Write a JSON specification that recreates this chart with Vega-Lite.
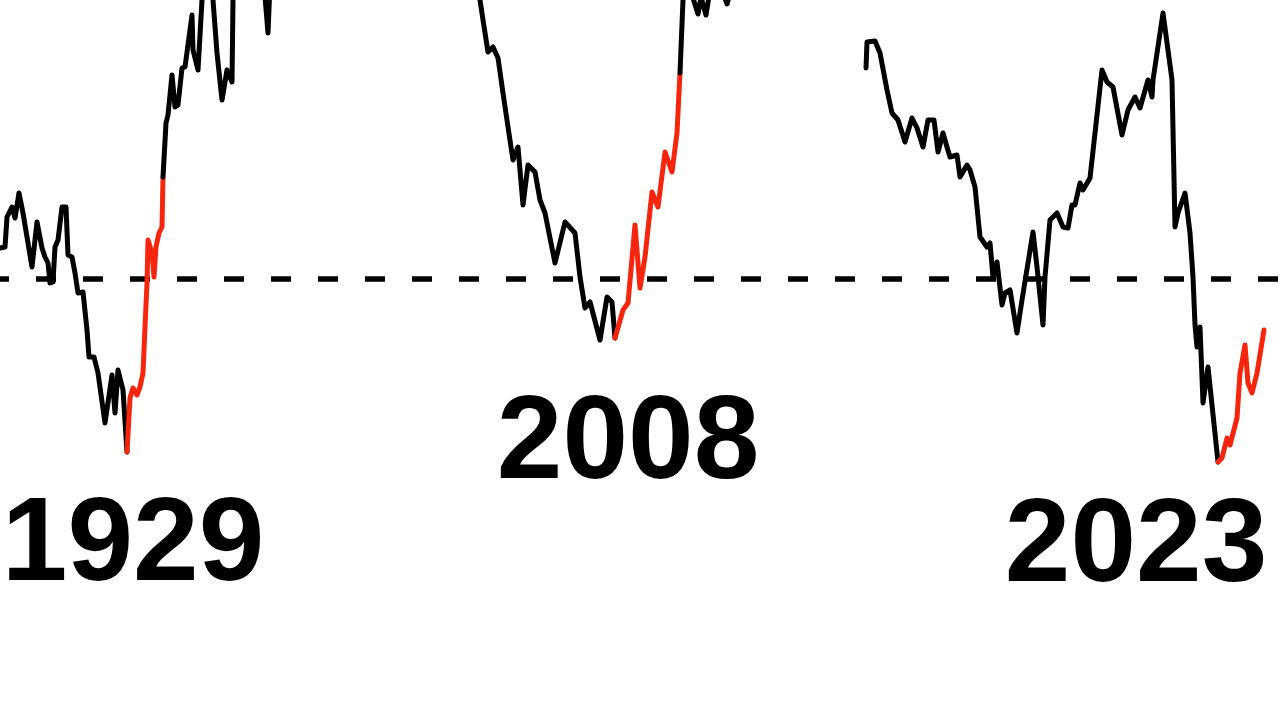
{
  "$schema": "https://vega.github.io/schema/vega-lite/v6.json",
  "autosize": {"type": "none"},
  "width": 1280,
  "height": 720,
  "padding": 0,
  "background": "white",
  "config": {"view": {"stroke": null}},
  "datasets": {
    "series": [
      {"seg": "1929a", "phase": "main", "t": 0, "v": 472},
      {"seg": "1929a", "phase": "main", "t": 5, "v": 473},
      {"seg": "1929a", "phase": "main", "t": 7, "v": 503},
      {"seg": "1929a", "phase": "main", "t": 12, "v": 513},
      {"seg": "1929a", "phase": "main", "t": 15, "v": 502},
      {"seg": "1929a", "phase": "main", "t": 19, "v": 527},
      {"seg": "1929a", "phase": "main", "t": 23, "v": 507},
      {"seg": "1929a", "phase": "main", "t": 32, "v": 453},
      {"seg": "1929a", "phase": "main", "t": 37, "v": 498},
      {"seg": "1929a", "phase": "main", "t": 42, "v": 472},
      {"seg": "1929a", "phase": "main", "t": 45, "v": 463},
      {"seg": "1929a", "phase": "main", "t": 48, "v": 457},
      {"seg": "1929a", "phase": "main", "t": 50, "v": 437},
      {"seg": "1929a", "phase": "main", "t": 53, "v": 438},
      {"seg": "1929a", "phase": "main", "t": 55, "v": 473},
      {"seg": "1929a", "phase": "main", "t": 58, "v": 480},
      {"seg": "1929a", "phase": "main", "t": 62, "v": 513},
      {"seg": "1929a", "phase": "main", "t": 66, "v": 513},
      {"seg": "1929a", "phase": "main", "t": 68, "v": 465},
      {"seg": "1929a", "phase": "main", "t": 72, "v": 463},
      {"seg": "1929a", "phase": "main", "t": 75, "v": 447},
      {"seg": "1929a", "phase": "main", "t": 78, "v": 427},
      {"seg": "1929a", "phase": "main", "t": 83, "v": 428},
      {"seg": "1929a", "phase": "main", "t": 87, "v": 390},
      {"seg": "1929a", "phase": "main", "t": 89, "v": 363},
      {"seg": "1929a", "phase": "main", "t": 94, "v": 363},
      {"seg": "1929a", "phase": "main", "t": 98, "v": 347},
      {"seg": "1929a", "phase": "main", "t": 105, "v": 297},
      {"seg": "1929a", "phase": "main", "t": 112, "v": 345},
      {"seg": "1929a", "phase": "main", "t": 115, "v": 307},
      {"seg": "1929a", "phase": "main", "t": 118, "v": 350},
      {"seg": "1929a", "phase": "main", "t": 123, "v": 330},
      {"seg": "1929a", "phase": "main", "t": 127, "v": 268},
      {"seg": "1929r", "phase": "rebound", "t": 127, "v": 268},
      {"seg": "1929r", "phase": "rebound", "t": 130, "v": 322},
      {"seg": "1929r", "phase": "rebound", "t": 133, "v": 332},
      {"seg": "1929r", "phase": "rebound", "t": 137, "v": 325},
      {"seg": "1929r", "phase": "rebound", "t": 140, "v": 333},
      {"seg": "1929r", "phase": "rebound", "t": 143, "v": 347},
      {"seg": "1929r", "phase": "rebound", "t": 145, "v": 393},
      {"seg": "1929r", "phase": "rebound", "t": 147, "v": 437},
      {"seg": "1929r", "phase": "rebound", "t": 148, "v": 480},
      {"seg": "1929r", "phase": "rebound", "t": 152, "v": 467},
      {"seg": "1929r", "phase": "rebound", "t": 154, "v": 443},
      {"seg": "1929r", "phase": "rebound", "t": 156, "v": 473},
      {"seg": "1929r", "phase": "rebound", "t": 159, "v": 487},
      {"seg": "1929r", "phase": "rebound", "t": 162, "v": 493},
      {"seg": "1929r", "phase": "rebound", "t": 163, "v": 543},
      {"seg": "1929b", "phase": "main", "t": 163, "v": 543},
      {"seg": "1929b", "phase": "main", "t": 166, "v": 597},
      {"seg": "1929b", "phase": "main", "t": 168, "v": 605},
      {"seg": "1929b", "phase": "main", "t": 172, "v": 645},
      {"seg": "1929b", "phase": "main", "t": 175, "v": 613},
      {"seg": "1929b", "phase": "main", "t": 178, "v": 615},
      {"seg": "1929b", "phase": "main", "t": 182, "v": 652},
      {"seg": "1929b", "phase": "main", "t": 185, "v": 653},
      {"seg": "1929b", "phase": "main", "t": 192, "v": 705},
      {"seg": "1929b", "phase": "main", "t": 193, "v": 670},
      {"seg": "1929b", "phase": "main", "t": 198, "v": 650},
      {"seg": "1929b", "phase": "main", "t": 202, "v": 720},
      {"seg": "1929b", "phase": "main", "t": 207, "v": 750},
      {"seg": "1929b", "phase": "main", "t": 213, "v": 720},
      {"seg": "1929b", "phase": "main", "t": 217, "v": 667},
      {"seg": "1929b", "phase": "main", "t": 222, "v": 620},
      {"seg": "1929b", "phase": "main", "t": 227, "v": 650},
      {"seg": "1929b", "phase": "main", "t": 232, "v": 638},
      {"seg": "1929b", "phase": "main", "t": 233, "v": 720},
      {"seg": "1929b", "phase": "main", "t": 240, "v": 760},
      {"seg": "1929b", "phase": "main", "t": 262, "v": 760},
      {"seg": "1929b", "phase": "main", "t": 268, "v": 687},
      {"seg": "1929b", "phase": "main", "t": 271, "v": 760},
      {"seg": "2008a", "phase": "main", "t": 476, "v": 740},
      {"seg": "2008a", "phase": "main", "t": 480, "v": 720},
      {"seg": "2008a", "phase": "main", "t": 483, "v": 700},
      {"seg": "2008a", "phase": "main", "t": 488, "v": 668},
      {"seg": "2008a", "phase": "main", "t": 493, "v": 673},
      {"seg": "2008a", "phase": "main", "t": 498, "v": 662},
      {"seg": "2008a", "phase": "main", "t": 503, "v": 627},
      {"seg": "2008a", "phase": "main", "t": 508, "v": 593},
      {"seg": "2008a", "phase": "main", "t": 513, "v": 560},
      {"seg": "2008a", "phase": "main", "t": 518, "v": 573},
      {"seg": "2008a", "phase": "main", "t": 523, "v": 515},
      {"seg": "2008a", "phase": "main", "t": 528, "v": 555},
      {"seg": "2008a", "phase": "main", "t": 535, "v": 548},
      {"seg": "2008a", "phase": "main", "t": 540, "v": 520},
      {"seg": "2008a", "phase": "main", "t": 545, "v": 507},
      {"seg": "2008a", "phase": "main", "t": 555, "v": 457},
      {"seg": "2008a", "phase": "main", "t": 565, "v": 498},
      {"seg": "2008a", "phase": "main", "t": 575, "v": 487},
      {"seg": "2008a", "phase": "main", "t": 580, "v": 443},
      {"seg": "2008a", "phase": "main", "t": 585, "v": 412},
      {"seg": "2008a", "phase": "main", "t": 590, "v": 418},
      {"seg": "2008a", "phase": "main", "t": 600, "v": 380},
      {"seg": "2008a", "phase": "main", "t": 607, "v": 423},
      {"seg": "2008a", "phase": "main", "t": 612, "v": 418},
      {"seg": "2008a", "phase": "main", "t": 615, "v": 382},
      {"seg": "2008r", "phase": "rebound", "t": 615, "v": 382},
      {"seg": "2008r", "phase": "rebound", "t": 623, "v": 410},
      {"seg": "2008r", "phase": "rebound", "t": 628, "v": 417},
      {"seg": "2008r", "phase": "rebound", "t": 635, "v": 495},
      {"seg": "2008r", "phase": "rebound", "t": 640, "v": 432},
      {"seg": "2008r", "phase": "rebound", "t": 645, "v": 463},
      {"seg": "2008r", "phase": "rebound", "t": 652, "v": 528},
      {"seg": "2008r", "phase": "rebound", "t": 658, "v": 513},
      {"seg": "2008r", "phase": "rebound", "t": 665, "v": 568},
      {"seg": "2008r", "phase": "rebound", "t": 672, "v": 548},
      {"seg": "2008r", "phase": "rebound", "t": 677, "v": 587},
      {"seg": "2008r", "phase": "rebound", "t": 680, "v": 647},
      {"seg": "2008b", "phase": "main", "t": 680, "v": 647},
      {"seg": "2008b", "phase": "main", "t": 683, "v": 720},
      {"seg": "2008b", "phase": "main", "t": 686, "v": 740},
      {"seg": "2008b", "phase": "main", "t": 692, "v": 725},
      {"seg": "2008b", "phase": "main", "t": 698, "v": 706},
      {"seg": "2008b", "phase": "main", "t": 701, "v": 723},
      {"seg": "2008b", "phase": "main", "t": 706, "v": 705},
      {"seg": "2008b", "phase": "main", "t": 710, "v": 730},
      {"seg": "2008b", "phase": "main", "t": 722, "v": 730},
      {"seg": "2008b", "phase": "main", "t": 727, "v": 716},
      {"seg": "2008b", "phase": "main", "t": 731, "v": 730},
      {"seg": "2023a", "phase": "main", "t": 866, "v": 652},
      {"seg": "2023a", "phase": "main", "t": 867, "v": 678},
      {"seg": "2023a", "phase": "main", "t": 875, "v": 679},
      {"seg": "2023a", "phase": "main", "t": 880, "v": 667},
      {"seg": "2023a", "phase": "main", "t": 887, "v": 630},
      {"seg": "2023a", "phase": "main", "t": 892, "v": 607},
      {"seg": "2023a", "phase": "main", "t": 898, "v": 600},
      {"seg": "2023a", "phase": "main", "t": 905, "v": 578},
      {"seg": "2023a", "phase": "main", "t": 912, "v": 602},
      {"seg": "2023a", "phase": "main", "t": 917, "v": 592},
      {"seg": "2023a", "phase": "main", "t": 923, "v": 573},
      {"seg": "2023a", "phase": "main", "t": 928, "v": 600},
      {"seg": "2023a", "phase": "main", "t": 934, "v": 600},
      {"seg": "2023a", "phase": "main", "t": 938, "v": 568},
      {"seg": "2023a", "phase": "main", "t": 943, "v": 587},
      {"seg": "2023a", "phase": "main", "t": 947, "v": 573},
      {"seg": "2023a", "phase": "main", "t": 950, "v": 563},
      {"seg": "2023a", "phase": "main", "t": 957, "v": 565},
      {"seg": "2023a", "phase": "main", "t": 960, "v": 543},
      {"seg": "2023a", "phase": "main", "t": 967, "v": 555},
      {"seg": "2023a", "phase": "main", "t": 970, "v": 550},
      {"seg": "2023a", "phase": "main", "t": 975, "v": 533},
      {"seg": "2023a", "phase": "main", "t": 980, "v": 483},
      {"seg": "2023a", "phase": "main", "t": 987, "v": 473},
      {"seg": "2023a", "phase": "main", "t": 990, "v": 477},
      {"seg": "2023a", "phase": "main", "t": 993, "v": 443},
      {"seg": "2023a", "phase": "main", "t": 997, "v": 458},
      {"seg": "2023a", "phase": "main", "t": 1002, "v": 415},
      {"seg": "2023a", "phase": "main", "t": 1005, "v": 427},
      {"seg": "2023a", "phase": "main", "t": 1010, "v": 430},
      {"seg": "2023a", "phase": "main", "t": 1017, "v": 387},
      {"seg": "2023a", "phase": "main", "t": 1022, "v": 420},
      {"seg": "2023a", "phase": "main", "t": 1033, "v": 488},
      {"seg": "2023a", "phase": "main", "t": 1037, "v": 453},
      {"seg": "2023a", "phase": "main", "t": 1043, "v": 395},
      {"seg": "2023a", "phase": "main", "t": 1045, "v": 443},
      {"seg": "2023a", "phase": "main", "t": 1050, "v": 500},
      {"seg": "2023a", "phase": "main", "t": 1057, "v": 507},
      {"seg": "2023a", "phase": "main", "t": 1063, "v": 493},
      {"seg": "2023a", "phase": "main", "t": 1068, "v": 492},
      {"seg": "2023a", "phase": "main", "t": 1072, "v": 515},
      {"seg": "2023a", "phase": "main", "t": 1075, "v": 515},
      {"seg": "2023a", "phase": "main", "t": 1080, "v": 537},
      {"seg": "2023a", "phase": "main", "t": 1083, "v": 530},
      {"seg": "2023a", "phase": "main", "t": 1090, "v": 542},
      {"seg": "2023a", "phase": "main", "t": 1102, "v": 650},
      {"seg": "2023a", "phase": "main", "t": 1107, "v": 638},
      {"seg": "2023a", "phase": "main", "t": 1113, "v": 633},
      {"seg": "2023a", "phase": "main", "t": 1122, "v": 585},
      {"seg": "2023a", "phase": "main", "t": 1128, "v": 610},
      {"seg": "2023a", "phase": "main", "t": 1135, "v": 623},
      {"seg": "2023a", "phase": "main", "t": 1140, "v": 612},
      {"seg": "2023a", "phase": "main", "t": 1148, "v": 640},
      {"seg": "2023a", "phase": "main", "t": 1152, "v": 623},
      {"seg": "2023a", "phase": "main", "t": 1153, "v": 640},
      {"seg": "2023a", "phase": "main", "t": 1163, "v": 707},
      {"seg": "2023a", "phase": "main", "t": 1172, "v": 640},
      {"seg": "2023a", "phase": "main", "t": 1175, "v": 493},
      {"seg": "2023a", "phase": "main", "t": 1178, "v": 507},
      {"seg": "2023a", "phase": "main", "t": 1185, "v": 527},
      {"seg": "2023a", "phase": "main", "t": 1190, "v": 487},
      {"seg": "2023a", "phase": "main", "t": 1193, "v": 443},
      {"seg": "2023a", "phase": "main", "t": 1195, "v": 395},
      {"seg": "2023a", "phase": "main", "t": 1197, "v": 373},
      {"seg": "2023a", "phase": "main", "t": 1200, "v": 393},
      {"seg": "2023a", "phase": "main", "t": 1203, "v": 317},
      {"seg": "2023a", "phase": "main", "t": 1208, "v": 353},
      {"seg": "2023a", "phase": "main", "t": 1218, "v": 258},
      {"seg": "2023r", "phase": "rebound", "t": 1218, "v": 258},
      {"seg": "2023r", "phase": "rebound", "t": 1222, "v": 262},
      {"seg": "2023r", "phase": "rebound", "t": 1227, "v": 282},
      {"seg": "2023r", "phase": "rebound", "t": 1230, "v": 275},
      {"seg": "2023r", "phase": "rebound", "t": 1237, "v": 302},
      {"seg": "2023r", "phase": "rebound", "t": 1240, "v": 347},
      {"seg": "2023r", "phase": "rebound", "t": 1245, "v": 375},
      {"seg": "2023r", "phase": "rebound", "t": 1248, "v": 337},
      {"seg": "2023r", "phase": "rebound", "t": 1252, "v": 327},
      {"seg": "2023r", "phase": "rebound", "t": 1257, "v": 347},
      {"seg": "2023r", "phase": "rebound", "t": 1264, "v": 390}
    ],
    "labels": [
      {"label": "1929", "t": 133, "v": 140},
      {"label": "2008", "t": 628, "v": 242},
      {"label": "2023", "t": 1136, "v": 139}
    ],
    "baseline": [{"v": 441}]
  },
  "layer": [
    {
      "data": {"name": "baseline"},
      "mark": {"type": "rule", "stroke": "black", "strokeWidth": 5.5, "strokeDash": [20, 27], "strokeDashOffset": 45},
      "encoding": {
        "y": {"field": "v", "type": "quantitative", "scale": {"domain": [0, 720], "nice": false, "zero": false}, "axis": null}
      }
    },
    {
      "data": {"name": "series"},
      "mark": {"type": "line", "strokeWidth": 5, "strokeJoin": "round", "strokeCap": "round", "clip": true},
      "encoding": {
        "x": {"field": "t", "type": "quantitative", "scale": {"domain": [0, 1280], "nice": false, "zero": false}, "axis": null},
        "y": {"field": "v", "type": "quantitative", "scale": {"domain": [0, 720], "nice": false, "zero": false}, "axis": null},
        "detail": {"field": "seg"},
        "order": {"field": "t", "type": "quantitative"},
        "color": {"field": "phase", "type": "nominal", "scale": {"domain": ["main", "rebound"], "range": ["#000000", "#f5260d"]}, "legend": null}
      }
    },
    {
      "data": {"name": "labels"},
      "mark": {"type": "text", "font": "Liberation Sans", "fontWeight": "bold", "fontSize": 118, "align": "center", "baseline": "alphabetic", "color": "black"},
      "encoding": {
        "x": {"field": "t", "type": "quantitative", "scale": {"domain": [0, 1280], "nice": false, "zero": false}, "axis": null},
        "y": {"field": "v", "type": "quantitative", "scale": {"domain": [0, 720], "nice": false, "zero": false}, "axis": null},
        "text": {"field": "label"}
      }
    }
  ]
}
